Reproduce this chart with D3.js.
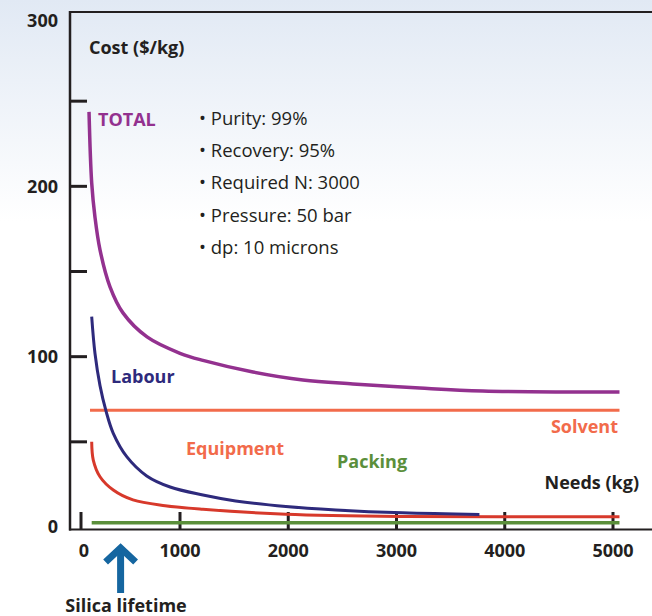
<!DOCTYPE html>
<html>
<head>
<meta charset="utf-8">
<script src="https://cdn.jsdelivr.net/npm/d3@7"></script>
<style>
  body { margin: 0; background: #fff; }
  text { font-family: "Open Sans", "Noto Sans", sans-serif; }
</style>
</head>
<body>
<script>
// values (kg -> $/kg)
const totalKg   = [81, 108, 141, 192, 293, 424, 667, 1000, 1212, 1674, 2135, 2597, 3215, 3797, 5060];
const totalCost = [243.7, 202, 182, 162.7, 141, 125.7, 111.6, 102, 97.8, 91, 86.3, 84, 81.6, 79.9, 79.3];

const labourKg   = [108, 141, 192, 253, 326, 462, 664, 900, 1212, 1514, 1978, 2440, 3058, 3766];
const labourCost = [123.5, 102, 83, 68, 55, 41.3, 30, 23.5, 18.8, 15.3, 12, 10, 8.3, 7.4];

const equipKg   = [108, 124, 192, 326, 525, 850, 1212, 1978, 3058, 5060];
const equipCost = [50, 39.3, 29.5, 21.7, 15.9, 12.5, 10.4, 7.5, 6.2, 6];

const solventKg   = [91, 5060];
const solventCost = [68.5, 68.5];

const packingKg   = [108, 5060];
const packingCost = [2.5, 2.5];

const xTicks = [0, 1000, 2000, 3000, 4000, 5000];
const yTickMarks = [50, 100, 150, 200, 250];
const yTickLabels = [0, 100, 200, 300];

const notes = ['Purity: 99%', 'Recovery: 95%', 'Required N: 3000', 'Pressure: 50 bar', 'dp: 10 microns'];
const silicaLifetime = 400;

const W = 652, H = 616;
const ink = '#231f20';

const x = d3.scaleLinear().domain([0, 1000, 5000]).range([81, 180, 613]);
const y = d3.scaleLinear().domain([0, 300]).range([527, 16]);

const svg = d3.select('body').append('svg')
    .attr('width', W)
    .attr('height', H);

// pale blue wash at the top
const grad = svg.append('defs').append('linearGradient')
    .attr('id', 'bg').attr('x1', 0).attr('y1', 0).attr('x2', 0).attr('y2', 1);
grad.append('stop').attr('offset', '0%').attr('stop-color', '#e1e9f4');
grad.append('stop').attr('offset', '36%').attr('stop-color', '#ffffff');
svg.append('rect').attr('width', W).attr('height', H).attr('fill', 'url(#bg)');

// frame: top line, y axis, x axis
svg.append('line').attr('x1', 70).attr('x2', W).attr('y1', 12).attr('y2', 12)
    .attr('stroke', ink).attr('stroke-width', 2);
svg.append('line').attr('x1', 70).attr('x2', 70).attr('y1', 11).attr('y2', 530.5)
    .attr('stroke', ink).attr('stroke-width', 2.5);
svg.append('line').attr('x1', 69).attr('x2', W).attr('y1', 529.5).attr('y2', 529.5)
    .attr('stroke', ink).attr('stroke-width', 2);

// y ticks (inner marks) and labels
svg.selectAll('.ytick').data(yTickMarks).enter().append('line')
    .attr('class', 'ytick')
    .attr('x1', 70).attr('x2', 87)
    .attr('y1', d => y(d)).attr('y2', d => y(d))
    .attr('stroke', ink).attr('stroke-width', 3);

svg.selectAll('.ylab').data(yTickLabels).enter().append('text')
    .attr('class', 'ylab')
    .attr('x', 58)
    .attr('y', d => y(d) + (d === 300 ? 5 : 0))
    .attr('dy', '0.35em')
    .attr('text-anchor', 'end')
    .attr('font-size', 18).attr('font-weight', 700).attr('fill', ink)
    .text(d => d);

// x ticks (inner marks) and labels
svg.selectAll('.xtick').data(xTicks).enter().append('line')
    .attr('class', 'xtick')
    .attr('x1', d => x(d)).attr('x2', d => x(d))
    .attr('y1', 512).attr('y2', 529)
    .attr('stroke', ink).attr('stroke-width', 3);

svg.selectAll('.xlab').data(xTicks).enter().append('text')
    .attr('class', 'xlab')
    .attr('x', d => x(d) + (d === 0 ? 3 : 0))
    .attr('y', 557)
    .attr('text-anchor', 'middle')
    .attr('font-size', 18).attr('font-weight', 700).attr('fill', ink)
    .text(d => d);

// series
const line = d3.line()
    .x(d => x(d[0]))
    .y(d => y(d[1]))
    .curve(d3.curveCatmullRom.alpha(0.5));

function drawSeries(kg, cost, colour, width) {
    svg.append('path')
        .datum(d3.zip(kg, cost))
        .attr('d', line)
        .attr('fill', 'none')
        .attr('stroke', colour)
        .attr('stroke-width', width);
}

drawSeries(packingKg, packingCost, '#5b8f3b', 3.5);
drawSeries(solventKg, solventCost, '#f26b4b', 3);
drawSeries(equipKg, equipCost, '#d7392b', 3);
drawSeries(labourKg, labourCost, '#2e2a7c', 3);
drawSeries(totalKg, totalCost, '#93318f', 3.5);

// series labels
function label(txt, px, py, colour, anchor) {
    svg.append('text')
        .attr('x', px).attr('y', py)
        .attr('text-anchor', anchor || 'start')
        .attr('font-size', 18).attr('font-weight', 700)
        .attr('fill', colour)
        .text(txt);
}

label('Cost ($/kg)', 89, 54, ink);
label('TOTAL', 98, 125.5, '#93318f');
label('Labour', 111, 383, '#2e2a7c');
label('Equipment', 186, 455, '#f26b4b');
label('Packing', 337, 468, '#5b8f3b');
label('Solvent', 618, 433, '#f26b4b', 'end');
label('Needs (kg)', 639, 489, ink, 'end');
label('Silica lifetime', 126, 612, ink, 'middle');

// bullet notes
svg.selectAll('.note').data(notes).enter().append('text')
    .attr('class', 'note')
    .attr('x', 199)
    .attr('y', (d, i) => 125 + i * 32.2)
    .attr('font-size', 18.5).attr('fill', ink)
    .text(d => '\u2022 ' + d);

// silica lifetime arrow
const ax = x(silicaLifetime);
svg.append('line')
    .attr('x1', ax).attr('x2', ax).attr('y1', 593).attr('y2', 547)
    .attr('stroke', '#1566a0').attr('stroke-width', 7);
svg.append('path')
    .attr('d', `M${ax - 15},${562} L${ax},${548} L${ax + 15},${562}`)
    .attr('fill', 'none')
    .attr('stroke', '#1566a0').attr('stroke-width', 7)
    .attr('stroke-linejoin', 'miter');
</script>
</body>
</html>
